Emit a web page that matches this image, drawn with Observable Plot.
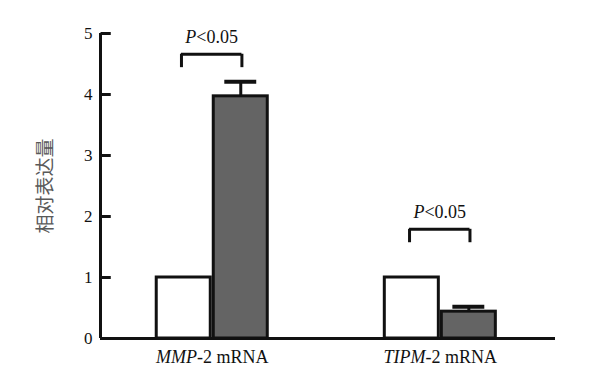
<!DOCTYPE html>
<html><head><meta charset="utf-8">
<script src="https://cdn.jsdelivr.net/npm/d3@7"></script>
<script src="https://cdn.jsdelivr.net/npm/@observablehq/plot@0.6"></script>
<style>
body{margin:0;background:#fff;}
</style>
</head><body>
<div id="chart"></div>
<script>
const groups = ["MMP-2 mRNA", "TIPM-2 mRNA"];
const italicParts = ["MMP", "TIPM"];
const conditions = ["对照", "处理"];
const controlValues = [1.0, 1.0];
const treatValues = [3.97, 0.44];
const treatErrors = [0.24, 0.08];
const pLabels = ["P<0.05", "P<0.05"];
const bracketLevels = [4.66, 1.79];
const yTicks = [0, 1, 2, 3, 4, 5];
const yLabel = "相对表达量";

const serif = '"Liberation Serif", "Times New Roman", serif';
const xMin = -0.49;
const bars = [];
groups.forEach((g, i) => {
  bars.push({group: i, cond: conditions[0], value: controlValues[i], x1: i - 0.25, x2: i});
  bars.push({group: i, cond: conditions[1], value: treatValues[i], x1: i, x2: i + 0.25});
});
const errs = groups.map((g, i) => ({x: i + 0.125, lo: treatValues[i], hi: treatValues[i] + treatErrors[i]}));
const brackets = groups.map((g, i) => ({x1: i - 0.135, x2: i + 0.13, y: bracketLevels[i], leg: bracketLevels[i] - 0.22, label: pLabels[i]}));
const tickRows = yTicks.map(v => ({v, a: xMin, b: xMin + 0.045}));

const plot = Plot.plot({
  width: 591,
  height: 385,
  marginLeft: 100,
  marginRight: 36,
  marginTop: 33,
  marginBottom: 47,
  style: {fontFamily: serif, background: "#fff"},
  x: {domain: [xMin, 1.505], axis: null},
  y: {domain: [0, 5], axis: null},
  marks: [
    Plot.rectY(bars, {x1: "x1", x2: "x2", y1: 0, y2: "value", fill: d => d.cond === conditions[0] ? "#fff" : "#646464", stroke: "#111", strokeWidth: 3, insetLeft: 1.5, insetRight: 1.5}),
    Plot.ruleX(errs, {x: "x", y1: "lo", y2: "hi", stroke: "#111", strokeWidth: 3}),
    Plot.ruleY(errs, {y: "hi", x1: d => d.x - 0.07, x2: d => d.x + 0.07, stroke: "#111", strokeWidth: 4}),
    Plot.ruleY(brackets, {y: "y", x1: "x1", x2: "x2", stroke: "#111", strokeWidth: 3}),
    Plot.ruleX(brackets, {x: "x1", y1: "leg", y2: "y", stroke: "#111", strokeWidth: 3}),
    Plot.ruleX(brackets, {x: "x2", y1: "leg", y2: "y", stroke: "#111", strokeWidth: 3}),
    Plot.text(brackets, {x: d => (d.x1 + d.x2) / 2, y: "y", dy: -17, text: "label", fontSize: 18, fill: "#111", className: "plabel"}),
    Plot.ruleY([0], {stroke: "#111", strokeWidth: 3}),
    Plot.ruleX([xMin], {y1: 0, y2: 5, stroke: "#111", strokeWidth: 3}),
    Plot.axisY({ticks: yTicks, tickFormat: d => String(d), tickSize: 0, tickPadding: 8, fontSize: 17, fill: "#111", label: null, className: "ylab"}),
    Plot.axisX({ticks: [0, 1], tickFormat: i => groups[i], tickSize: 0, tickPadding: 12, fontSize: 18, fill: "#111", label: null, className: "xlab"}),
    Plot.text([yLabel], {frameAnchor: "left", textAnchor: "middle", dx: -55, rotate: -90, text: d => d, fontSize: 19, fill: "#595959", className: "cjk"}),
    Plot.link(tickRows, {x1: "a", x2: "b", y1: "v", y2: "v", stroke: "#111", strokeWidth: 3})
  ]
});
d3.select(plot).selectAll("text").style("font-family", serif);
d3.select(plot).selectAll(".cjk text").style("font-family", '"Noto Sans CJK SC", sans-serif');
// italicize gene names and P
d3.select(plot).selectAll(".xlab text").each(function() {
  const t = d3.select(this);
  const s = t.text();
  const g = italicParts.find(p => s.startsWith(p));
  if (g) {
    t.text(null);
    t.append("tspan").attr("font-style", "italic").text(g);
    t.append("tspan").text(s.slice(g.length));
  }
});
d3.select(plot).selectAll(".plabel text").each(function() {
  const t = d3.select(this);
  const s = t.text();
  t.text(null);
  t.append("tspan").attr("font-style", "italic").text(s[0]);
  t.append("tspan").text(s.slice(1));
});
document.getElementById("chart").appendChild(plot);
</script>
</body></html>
